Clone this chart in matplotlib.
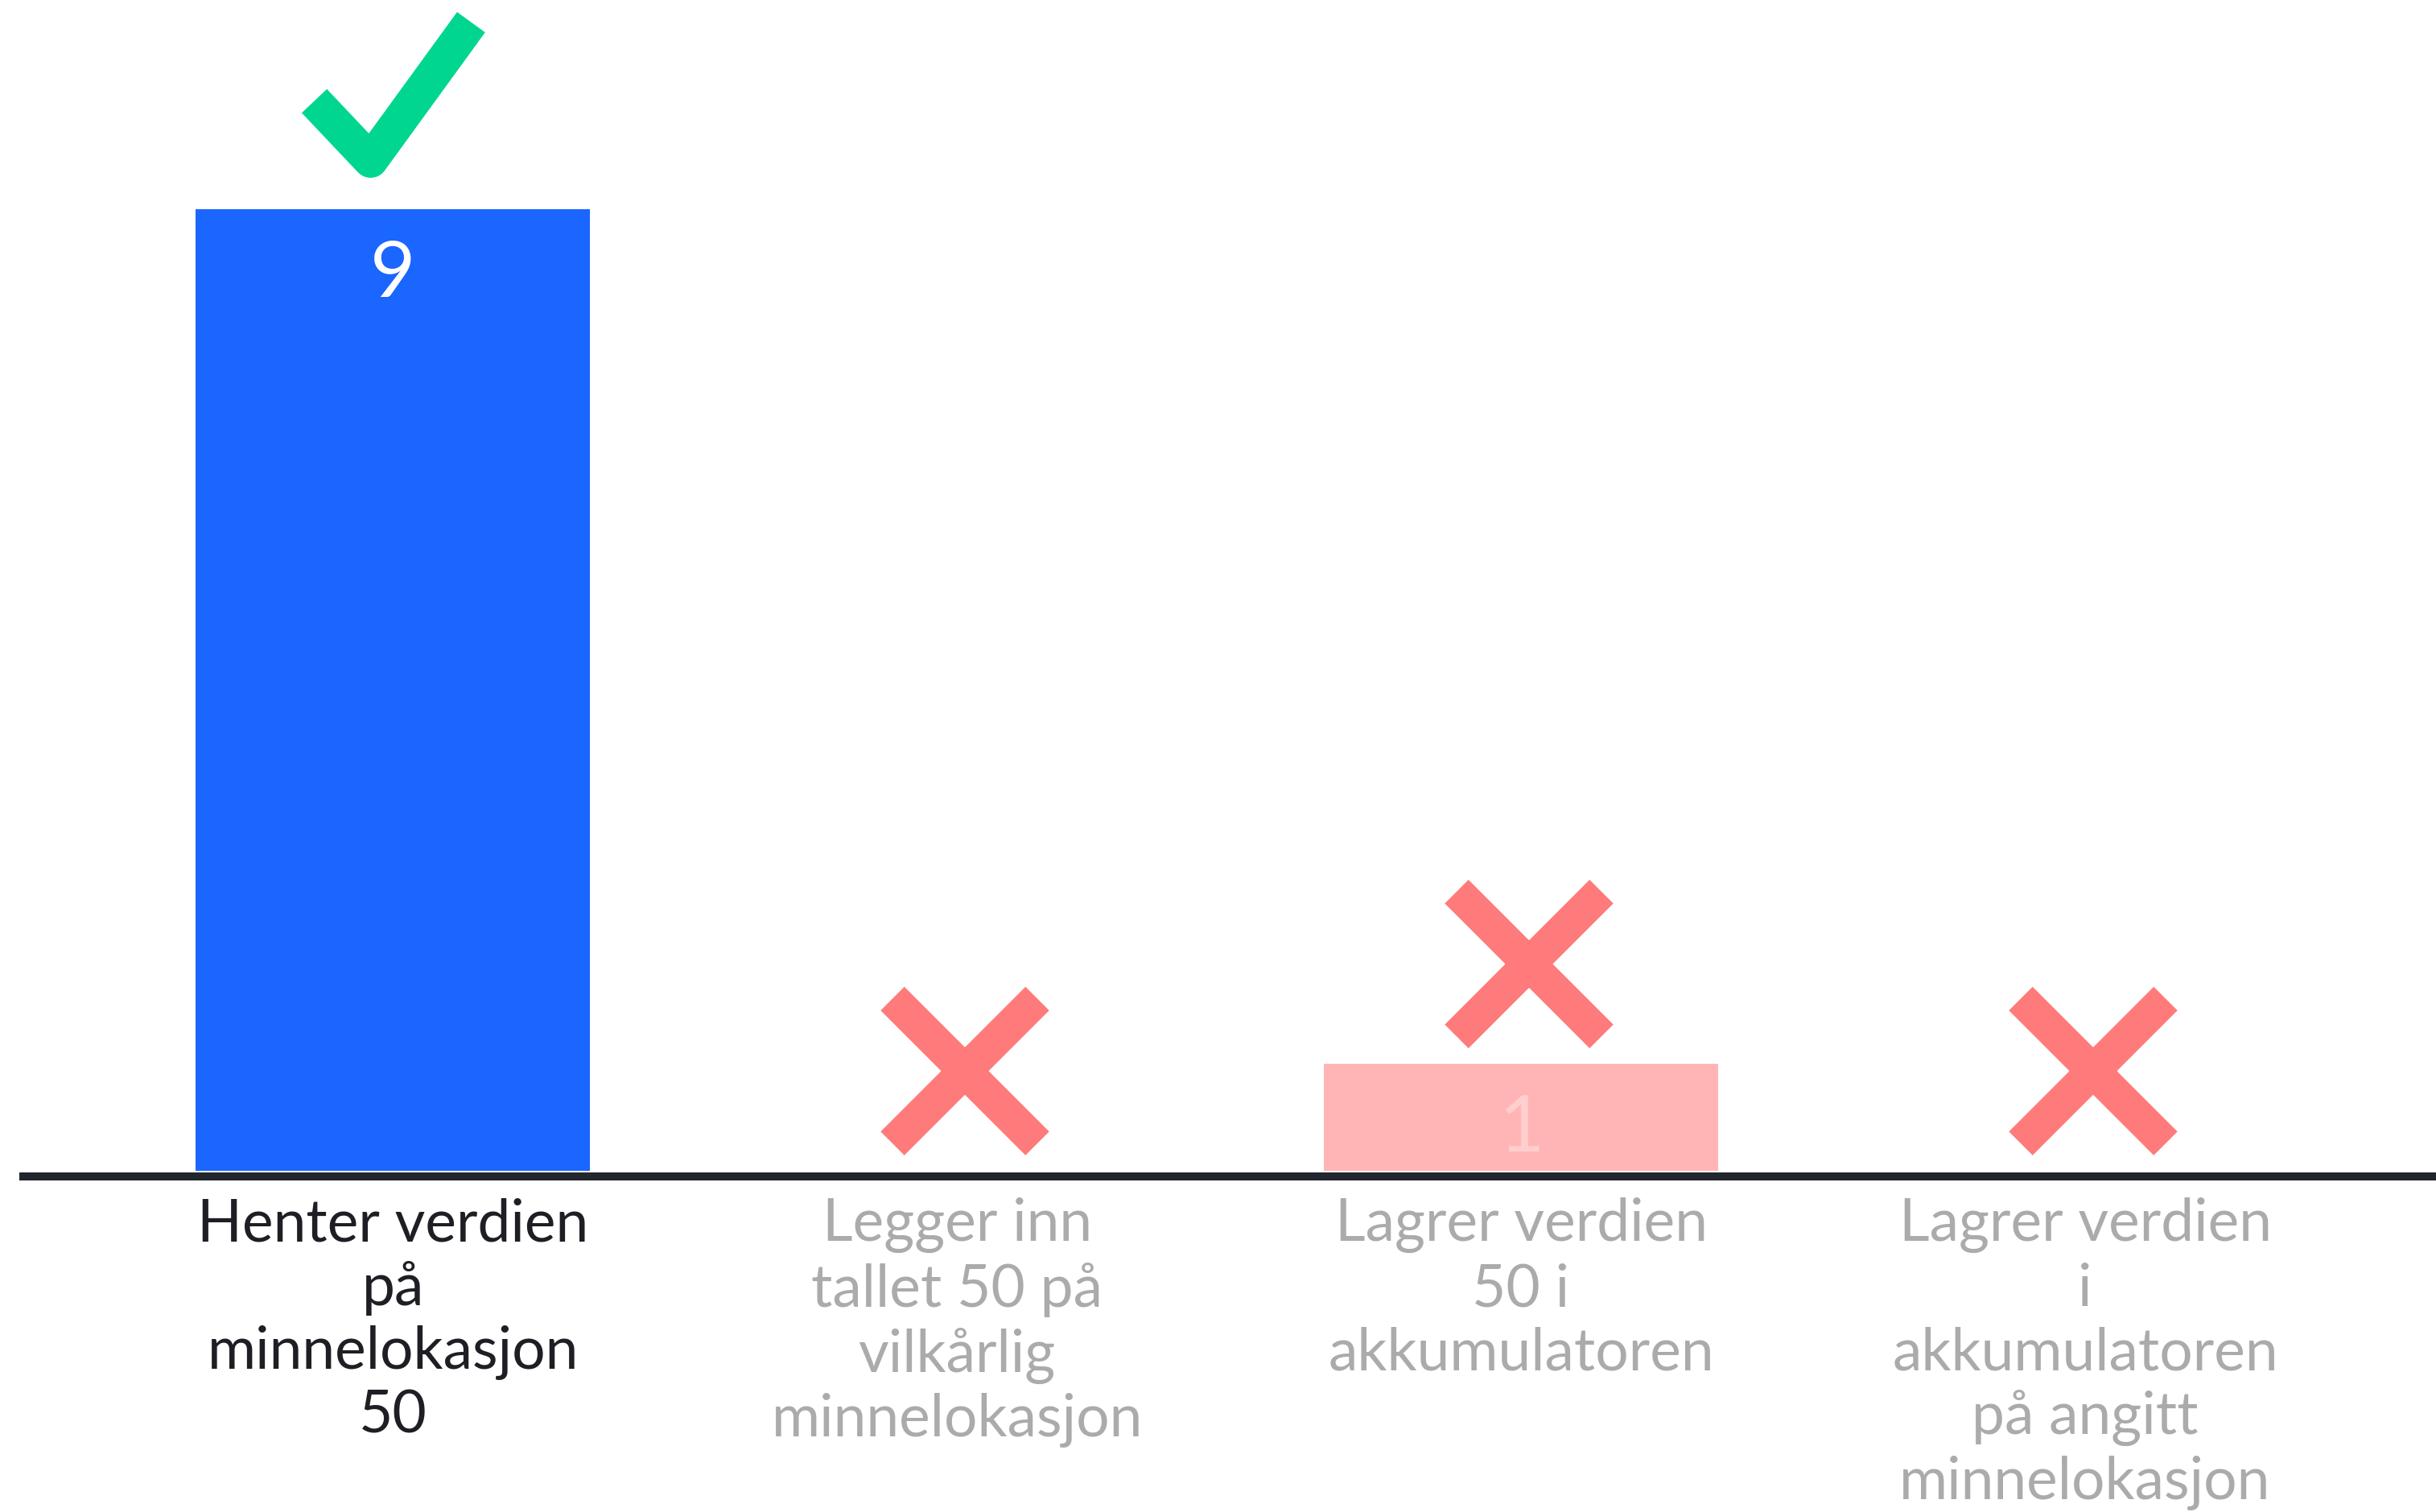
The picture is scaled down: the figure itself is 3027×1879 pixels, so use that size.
import matplotlib
matplotlib.use("Agg")
import matplotlib.pyplot as plt
import matplotlib.transforms as mtransforms
from matplotlib.path import Path
from matplotlib.markers import MarkerStyle

# ---------------- data ----------------
categories = [
    "Henter verdien\npå\nminnelokasjon\n50",
    "Legger inn\ntallet 50 på\nvilkårlig\nminnelokasjon",
    "Lagrer verdien\n50 i\nakkumulatoren",
    "Lagrer verdien\ni\nakkumulatoren\npå angitt\nminnelokasjon",
]
values = [9, 0, 1, 0]
is_correct = [True, False, False, False]

# ---------------- style ----------------
FONT = ["Lato", "DejaVu Sans"]
plt.rcParams["font.family"] = FONT
BLUE = "#1A66FF"
PINK = "#FFB5B5"
GREEN = "#00D68F"
RED = "#FF7B7B"
DARK = "#22262E"
GREY = "#ABABAB"

W, H, DPI = 3027, 1879, 100
fig = plt.figure(figsize=(W / DPI, H / DPI), dpi=DPI)
fig.patch.set_facecolor("white")
ax = fig.add_axes([29 / W, 424 / H, 1 - 29 / W, 1455 / H])
ax.set_facecolor("white")

x = list(range(len(categories)))
bar_colors = [BLUE if c else PINK for c in is_correct]
ax.bar(x, values, width=0.7, color=bar_colors, zorder=2)
ax.set_xlim(-0.655, 3.622)
ax.set_ylim(0, 10.96)

# value labels inside bars
for xi, v, c in zip(x, values, is_correct):
    if v > 0:
        ax.annotate(str(v), (xi, v), xytext=(0, -78), textcoords="offset points",
                    ha="center", va="baseline", fontsize=70,
                    color="white", alpha=1.0 if c else 0.35, zorder=3)

# check / cross markers above bars
check_path = Path([(-98, -6), (-28, -80), (97, 92)],
                  [Path.MOVETO, Path.LINETO, Path.LINETO])
check_marker = MarkerStyle(check_path, joinstyle="miter", capstyle="butt")
cross_marker = MarkerStyle("x", capstyle="butt")

for xi, v, c in zip(x, values, is_correct):
    if c:
        tr = mtransforms.offset_copy(ax.transData, fig=fig, x=0, y=141, units="dots")
        ax.plot([xi], [v], marker=check_marker, ms=141, mew=31, mec=GREEN,
                mfc="none", linestyle="none", transform=tr, clip_on=False, zorder=4)
    else:
        tr = mtransforms.offset_copy(ax.transData, fig=fig, x=10, y=124, units="dots")
        ax.plot([xi], [v], marker=cross_marker, ms=129.6, mew=30, mec=RED,
                linestyle="none", transform=tr, clip_on=False, zorder=4)

# axes styling
for s in ["top", "right", "left"]:
    ax.spines[s].set_visible(False)
ax.spines["bottom"].set_position(("outward", 5))
ax.spines["bottom"].set_linewidth(7.2)
ax.spines["bottom"].set_color(DARK)
ax.set_yticks([])

# fit label font size to target width
renderer = fig.canvas.get_renderer()
probe = fig.text(0, 0, "minnelokasjon", fontsize=40, family=FONT)
wpx = probe.get_window_extent(renderer).width
probe.remove()
label_fs = 40 * 461 / wpx

ax.set_xticks(x)
ax.set_xticklabels(categories, fontsize=label_fs)
ax.tick_params(axis="x", length=0, pad=19)
for lbl, c in zip(ax.get_xticklabels(), is_correct):
    lbl.set_color("#1E1E24" if c else GREY)
    lbl.set_linespacing(1.1 * 81 / (label_fs * DPI / 72))

fig.savefig("out.png", dpi=DPI, facecolor="white")
